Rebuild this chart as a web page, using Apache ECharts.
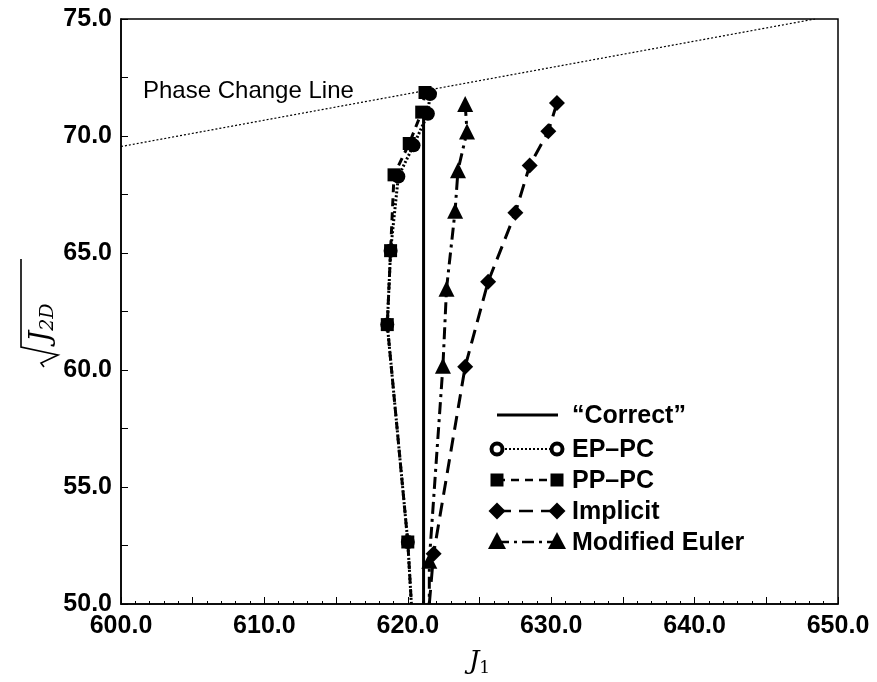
<!DOCTYPE html>
<html>
<head>
<meta charset="utf-8">
<script src="https://cdn.jsdelivr.net/npm/echarts@6/dist/echarts.min.js"></script>
<style>
  html, body { margin: 0; background: #fff; }
  #chart { width: 877px; height: 682px; }
</style>
</head>
<body>
<div id="chart"></div>
<script>
// values: J1 (x) and sqrt(J2D) (y)
const phaseJ1 = [600.0, 648.4];
const phaseJ2 = [69.55, 75.0];

const correctJ1 = [621.1, 621.1];
const correctJ2 = [50.0, 71.0];

const epJ1 = [621.55, 621.4, 620.4, 619.34, 618.8, 618.57, 620.0, 620.25];
const epJ2 = [71.79, 70.95, 69.6, 68.27, 65.1, 61.94, 52.65, 50.0];

const ppJ1 = [621.2, 620.97, 620.1, 619.04, 618.8, 618.57, 620.0, 620.25];
const ppJ2 = [71.86, 71.02, 69.68, 68.34, 65.1, 61.94, 52.65, 50.0];

const implJ1 = [630.4, 629.8, 628.5, 627.5, 625.6, 624.0, 621.8, 621.5];
const implJ2 = [71.41, 70.2, 68.74, 66.72, 63.77, 60.14, 52.15, 50.0];

const meJ1 = [624.0, 624.13, 623.5, 623.3, 622.7, 622.45, 621.5, 621.5];
const meJ2 = [71.37, 70.19, 68.54, 66.81, 63.47, 60.18, 51.85, 50.0];

const seriesNames = ['\u201CCorrect\u201D', 'EP\u2013PC', 'PP\u2013PC', 'Implicit', 'Modified Euler'];

// last point of each run is where the curve leaves the frame: no marker there
function pts(xs, ys) {
  return xs.map((x, k) => {
    const item = { value: [x, ys[k]] };
    if (k === xs.length - 1) item.symbol = 'none';
    return item;
  });
}

const chart = echarts.init(document.getElementById('chart'));

const tickFont = { fontFamily: 'Liberation Sans', fontWeight: 'bold', fontSize: 25, color: '#000' };
const legendFont = { fontFamily: 'Liberation Sans', fontWeight: 'bold', fontSize: 25, fill: '#000' };

// legend drawn by hand: marker, line, marker, then the name
const legendRows = [
  { y: 415, dash: null, width: 3, mark: null },
  { y: 449, dash: [2, 2], width: 2, mark: 'circle' },
  { y: 480, dash: [8, 6], width: 2.5, mark: 'rect' },
  { y: 511, dash: [14, 8], width: 2.5, mark: 'diamond' },
  { y: 542, dash: [12, 5, 3, 5], width: 2.5, mark: 'triangle' }
];

function legendMark(kind, cx, cy) {
  if (kind === 'circle') {
    return { type: 'circle', shape: { cx: cx, cy: cy, r: 5.5 }, style: { fill: '#fff', stroke: '#000', lineWidth: 4 } };
  }
  if (kind === 'rect') {
    return { type: 'rect', shape: { x: cx - 6.5, y: cy - 6.5, width: 13, height: 13 }, style: { fill: '#000' } };
  }
  if (kind === 'diamond') {
    return { type: 'polygon', shape: { points: [[cx, cy - 8.5], [cx + 8.5, cy], [cx, cy + 8.5], [cx - 8.5, cy]] }, style: { fill: '#000' } };
  }
  return { type: 'polygon', shape: { points: [[cx, cy - 10], [cx + 9, cy + 7], [cx - 9, cy + 7]] }, style: { fill: '#000' } };
}

const legendEls = [];
legendRows.forEach((row, k) => {
  legendEls.push({
    type: 'line',
    shape: { x1: 497, y1: row.y, x2: 558, y2: row.y },
    style: { stroke: '#000', lineWidth: row.width, lineDash: row.dash }
  });
  if (row.mark) {
    legendEls.push(legendMark(row.mark, 497, row.y));
    legendEls.push(legendMark(row.mark, 557, row.y));
  }
  legendEls.push({
    type: 'text',
    x: 572, y: row.y + 1,
    style: Object.assign({ text: seriesNames[k], verticalAlign: 'middle', align: 'left' }, legendFont)
  });
});

const option = {
  animation: false,
  backgroundColor: '#fff',
  grid: { left: 121, right: 39, top: 19, bottom: 71, show: true, borderColor: '#000', borderWidth: 1.5, backgroundColor: 'transparent' },
  xAxis: {
    type: 'value', min: 600, max: 650, interval: 5,
    name: '{j|J}{s|1}', nameLocation: 'middle', nameGap: 44,
    nameTextStyle: {
      rich: {
        j: { fontFamily: 'DejaVu Serif', fontStyle: 'italic', fontSize: 26, color: '#000' },
        s: { fontFamily: 'DejaVu Serif', fontSize: 17, color: '#000', verticalAlign: 'bottom', padding: [12, 0, 0, 0] }
      }
    },
    axisLine: { lineStyle: { color: '#000', width: 1.5 } },
    axisTick: { inside: true, length: 7, lineStyle: { color: '#000', width: 1 } },
    minorTick: { show: true, splitNumber: 5, length: 3, lineStyle: { color: '#000' } },
    splitLine: { show: false },
    axisLabel: Object.assign({ margin: 10, formatter: v => (v % 10 === 0 ? v.toFixed(1) : '') }, tickFont)
  },
  yAxis: {
    type: 'value', min: 50, max: 75, interval: 2.5,
    axisLine: { lineStyle: { color: '#000', width: 1.5 } },
    axisTick: { inside: true, length: 7, lineStyle: { color: '#000', width: 1 } },
    splitLine: { show: false },
    axisLabel: Object.assign({ margin: 9, formatter: v => (v % 5 === 0 ? v.toFixed(1) : '') }, tickFont)
  },
  graphic: [
    {
      type: 'text', x: 143, y: 91,
      style: { text: 'Phase Change Line', fontFamily: 'Liberation Sans', fontSize: 24, fill: '#000', verticalAlign: 'middle' }
    },
    {
      // sqrt(J2D) axis name, drawn unrotated then turned to read bottom-to-top
      type: 'group', x: 40, y: 313, rotation: Math.PI / 2,
      children: [
        { type: 'polyline', shape: { points: [[-54, 4], [-50, 1], [-42, 18], [-34, -19], [54, -19]] }, style: { stroke: '#000', lineWidth: 1.6, fill: null } },
        {
          type: 'text', x: -29, y: 2,
          style: {
            text: '{j|J}{s|2D}', verticalAlign: 'middle', align: 'left',
            rich: {
              j: { fontFamily: 'DejaVu Serif', fontStyle: 'italic', fontSize: 28, fill: '#000' },
              s: { fontFamily: 'DejaVu Serif', fontStyle: 'italic', fontSize: 19, fill: '#000', padding: [12, 0, 0, 0] }
            }
          }
        }
      ]
    },
    { type: 'group', children: legendEls }
  ],
  series: [
    {
      name: 'Phase Change Line', type: 'line', data: pts(phaseJ1, phaseJ2), symbol: 'none',
      lineStyle: { color: '#000', width: 1.2, type: [2, 2] }
    },
    {
      name: seriesNames[0], type: 'line', data: pts(correctJ1, correctJ2), symbol: 'none',
      lineStyle: { color: '#000', width: 3, type: 'solid' }
    },
    {
      name: seriesNames[1], type: 'line', data: pts(epJ1, epJ2), symbol: 'circle', symbolSize: 14,
      itemStyle: { color: '#000' }, lineStyle: { color: '#000', width: 3, type: [2, 2] }
    },
    {
      name: seriesNames[2], type: 'line', data: pts(ppJ1, ppJ2), symbol: 'rect', symbolSize: 13,
      itemStyle: { color: '#000' }, lineStyle: { color: '#000', width: 3, type: [8, 6] }
    },
    {
      name: seriesNames[3], type: 'line', data: pts(implJ1, implJ2), symbol: 'diamond', symbolSize: 16,
      itemStyle: { color: '#000' }, lineStyle: { color: '#000', width: 3, type: [14, 8] }
    },
    {
      name: seriesNames[4], type: 'line', data: pts(meJ1, meJ2), symbol: 'triangle', symbolSize: 16,
      itemStyle: { color: '#000' }, lineStyle: { color: '#000', width: 3, type: [12, 5, 3, 5] }
    }
  ]
};

chart.setOption(option);
</script>
</body>
</html>
